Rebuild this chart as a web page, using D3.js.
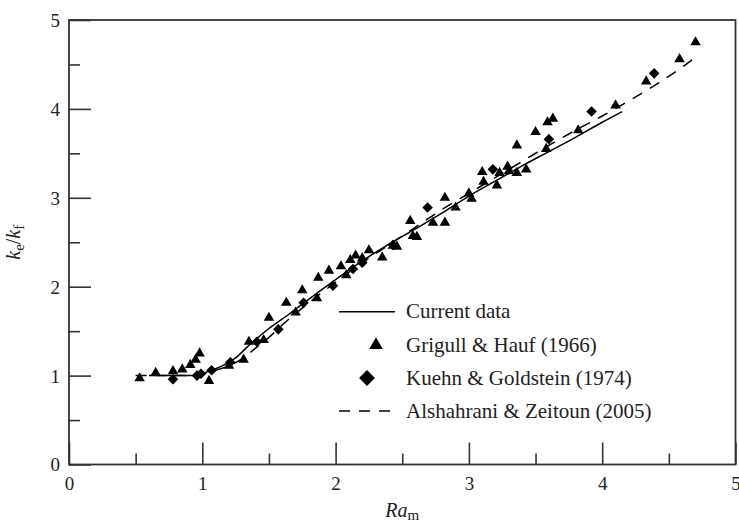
<!DOCTYPE html>
<html>
<head>
<meta charset="utf-8">
<script src="https://cdn.jsdelivr.net/npm/d3@7"></script>
<style>
  html, body { margin: 0; padding: 0; background: #fff; }
  svg { display: block; font-family: "Liberation Serif", "DejaVu Serif", serif; }
</style>
</head>
<body>
<svg id="chart" width="739" height="524"></svg>
<script>
// Effective conductivity ratio ke/kf against modified Rayleigh number Ra_m

// Current data (fitted curve)
const currentX = [0.60, 0.75, 0.90, 0.97, 1.05, 1.15, 1.25, 1.35, 1.50, 1.65, 1.80, 2.00, 2.20, 2.40, 2.60, 2.80, 3.00, 3.20, 3.40, 3.60, 3.80, 4.00, 4.15];
const currentY = [1.00, 1.00, 1.00, 1.01, 1.05, 1.11, 1.20, 1.34, 1.53, 1.69, 1.86, 2.08, 2.29, 2.48, 2.65, 2.83, 3.02, 3.19, 3.36, 3.52, 3.68, 3.85, 3.97];

// Alshahrani & Zeitoun (2005) correlation
const azX = [0.50, 0.70, 0.90, 1.00, 1.10, 1.20, 1.30, 1.40, 1.50, 1.60, 1.80, 2.00, 2.20, 2.40, 2.60, 2.80, 3.00, 3.20, 3.40, 3.60, 3.80, 4.00, 4.20, 4.40, 4.60, 4.70];
const azY = [1.00, 1.00, 1.00, 1.02, 1.06, 1.11, 1.19, 1.31, 1.43, 1.57, 1.82, 2.05, 2.27, 2.47, 2.67, 2.87, 3.05, 3.23, 3.41, 3.59, 3.76, 3.92, 4.09, 4.27, 4.47, 4.58];

// Grigull & Hauf (1966)
const ghX = [0.53, 0.65, 0.78, 0.85, 0.91, 0.95, 0.98, 1.05, 1.20, 1.31, 1.35, 1.46, 1.50, 1.63, 1.70, 1.75, 1.86, 1.87, 1.95, 2.04, 2.08, 2.11, 2.15, 2.20, 2.25, 2.35, 2.43, 2.46, 2.56, 2.58, 2.61, 2.73, 2.82, 2.82, 2.90, 3.00, 3.02, 3.10, 3.11, 3.21, 3.23, 3.29, 3.30, 3.36, 3.43, 3.36, 3.50, 3.58, 3.59, 3.63, 3.82, 4.10, 4.33, 4.58, 4.70];
const ghY = [0.97, 1.03, 1.05, 1.07, 1.12, 1.18, 1.25, 0.94, 1.11, 1.18, 1.38, 1.40, 1.65, 1.82, 1.71, 1.96, 1.87, 2.10, 2.18, 2.23, 2.13, 2.30, 2.35, 2.32, 2.41, 2.33, 2.46, 2.45, 2.74, 2.57, 2.56, 2.72, 2.72, 3.00, 2.89, 3.05, 2.99, 3.29, 3.18, 3.14, 3.28, 3.35, 3.30, 3.28, 3.32, 3.59, 3.74, 3.55, 3.85, 3.89, 3.76, 4.04, 4.31, 4.56, 4.75];

// Kuehn & Goldstein (1974)
const kgX = [0.78, 0.96, 0.99, 1.07, 1.21, 1.41, 1.57, 1.76, 1.98, 2.13, 2.20, 2.43, 2.69, 3.18, 3.60, 3.92, 4.39];
const kgY = [0.96, 1.00, 1.02, 1.06, 1.15, 1.38, 1.52, 1.82, 2.01, 2.20, 2.27, 2.47, 2.89, 3.32, 3.66, 3.97, 4.40];

// Axis ticks
const majorTicks = [0, 1, 2, 3, 4, 5];
const minorTicks = [0.5, 1.5, 2.5, 3.5, 4.5];

// Legend entries
const legendLabels = ["Current data", "Grigull & Hauf (1966)", "Kuehn & Goldstein (1974)", "Alshahrani & Zeitoun (2005)"];

const svg = d3.select("#chart");
const plot = { left: 69, right: 735.5, top: 20, bottom: 464.5 };

const x = d3.scaleLinear().domain([0, 5]).range([plot.left, plot.right]);
const y = d3.scaleLinear().domain([0, 5]).range([plot.bottom, plot.top]);

const axisColor = "#333";
const textColor = "#222";

// Frame
svg.append("rect")
  .attr("x", plot.left).attr("y", plot.top)
  .attr("width", plot.right - plot.left).attr("height", plot.bottom - plot.top)
  .attr("fill", "none").attr("stroke", axisColor).attr("stroke-width", 1.8);

// Bottom axis: inward ticks
const xMajor = d3.axisBottom(x).tickValues(majorTicks).tickFormat(d3.format("d")).tickSizeInner(-22).tickSizeOuter(0).tickPadding(0);
const xMinor = d3.axisBottom(x).tickValues(minorTicks).tickFormat("").tickSizeInner(-11).tickSizeOuter(0);
const gxMinor = svg.append("g").attr("transform", `translate(0,${plot.bottom})`).call(xMinor);
const gx = svg.append("g").attr("transform", `translate(0,${plot.bottom})`).call(xMajor);
[gx, gxMinor].forEach(g => {
  g.select(".domain").remove();
  g.selectAll(".tick line").attr("stroke", axisColor).attr("stroke-width", 1.6);
});
gx.selectAll(".tick text")
  .attr("y", 25).attr("dy", 0)
  .attr("fill", textColor)
  .style("font-family", "Liberation Serif")
  .style("font-size", "19px");

// Left axis: inward ticks
const yMajor = d3.axisLeft(y).tickValues(majorTicks).tickFormat(d3.format("d")).tickSizeInner(-22).tickSizeOuter(0).tickPadding(0);
const yMinor = d3.axisLeft(y).tickValues(minorTicks).tickFormat("").tickSizeInner(-11).tickSizeOuter(0);
const gyMinor = svg.append("g").attr("transform", `translate(${plot.left},0)`).call(yMinor);
const gy = svg.append("g").attr("transform", `translate(${plot.left},0)`).call(yMajor);
[gy, gyMinor].forEach(g => {
  g.select(".domain").remove();
  g.selectAll(".tick line").attr("stroke", axisColor).attr("stroke-width", 1.6);
});
gy.selectAll(".tick text")
  .attr("x", -9).attr("dy", "0.34em")
  .attr("fill", textColor)
  .style("font-family", "Liberation Serif")
  .style("font-size", "19px");

// Axis titles
const xTitle = svg.append("text")
  .attr("x", (plot.left + plot.right) / 2).attr("y", 517)
  .attr("text-anchor", "middle").attr("fill", textColor)
  .style("font-size", "20px");
xTitle.append("tspan").attr("font-style", "italic").text("Ra");
xTitle.append("tspan").attr("dy", 3).style("font-size", "15px").text("m");

const yTitle = svg.append("text")
  .attr("transform", `translate(20,${(plot.top + plot.bottom) / 2}) rotate(-90)`)
  .attr("text-anchor", "middle").attr("fill", textColor)
  .style("font-size", "20px");
yTitle.append("tspan").attr("font-style", "italic").text("k");
yTitle.append("tspan").attr("dy", 4).style("font-size", "15px").text("e");
yTitle.append("tspan").attr("dy", -4).text("/");
yTitle.append("tspan").attr("font-style", "italic").text("k");
yTitle.append("tspan").attr("dy", 4).style("font-size", "15px").text("f");

// Curves
const line = d3.line().x(d => x(d[0])).y(d => y(d[1])).curve(d3.curveMonotoneX);
svg.append("path")
  .datum(d3.zip(azX, azY))
  .attr("d", line)
  .attr("fill", "none").attr("stroke", "#000").attr("stroke-width", 1.5)
  .attr("stroke-dasharray", "11,9");
svg.append("path")
  .datum(d3.zip(currentX, currentY))
  .attr("d", line)
  .attr("fill", "none").attr("stroke", "#000").attr("stroke-width", 1.5);

// Markers
const tri = d3.symbol().type(d3.symbolTriangle).size(48);
const dia = d3.symbol().type(d3.symbolSquare).size(56);

svg.append("g").selectAll("path")
  .data(d3.zip(ghX, ghY))
  .join("path")
  .attr("d", tri)
  .attr("transform", d => `translate(${x(d[0])},${y(d[1])})`)
  .attr("fill", "#000");

svg.append("g").selectAll("path")
  .data(d3.zip(kgX, kgY))
  .join("path")
  .attr("d", dia)
  .attr("transform", d => `translate(${x(d[0])},${y(d[1])}) rotate(45)`)
  .attr("fill", "#000");

// Legend
const legend = svg.append("g");
const rowY = [311.7, 345, 378, 411];
const textX = 406;

legend.append("line")
  .attr("x1", 339).attr("x2", 395).attr("y1", rowY[0]).attr("y2", rowY[0])
  .attr("stroke", "#000").attr("stroke-width", 1.5);
legend.append("path")
  .attr("d", d3.symbol().type(d3.symbolTriangle).size(80)())
  .attr("transform", `translate(376,${rowY[1]})`).attr("fill", "#000");
legend.append("path")
  .attr("d", d3.symbol().type(d3.symbolSquare).size(125)())
  .attr("transform", `translate(367,${rowY[2]}) rotate(45)`).attr("fill", "#000");
legend.append("line")
  .attr("x1", 339).attr("x2", 395).attr("y1", rowY[3]).attr("y2", rowY[3])
  .attr("stroke", "#000").attr("stroke-width", 1.5)
  .attr("stroke-dasharray", "11,9");

legend.selectAll("text")
  .data(legendLabels)
  .join("text")
  .attr("x", textX)
  .attr("y", (d, i) => rowY[i] + 6.7)
  .attr("fill", textColor)
  .style("font-size", "21px")
  .text(d => d);
</script>
</body>
</html>
